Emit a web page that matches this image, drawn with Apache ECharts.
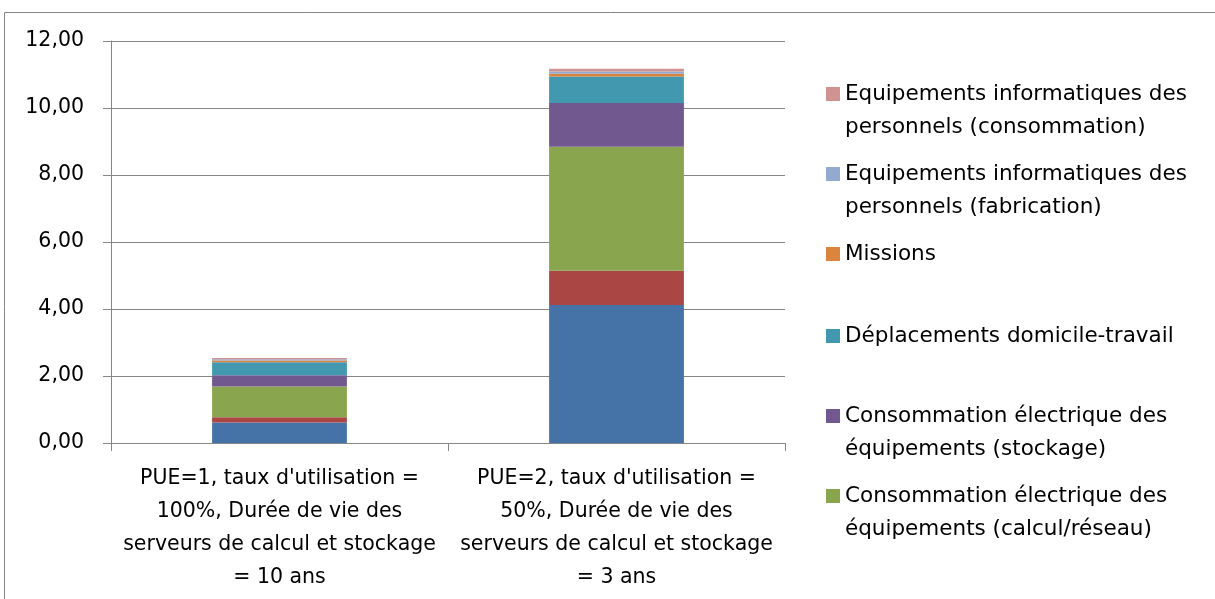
<!DOCTYPE html>
<html>
<head>
<meta charset="utf-8">
<script src="https://cdn.jsdelivr.net/npm/echarts@6/dist/echarts.min.js"></script>
<style>
html,body{margin:0;padding:0;background:#fff;}
#chart{width:1215px;height:599px;}
</style>
</head>
<body>
<div id="chart"></div>
<script>
const categories = [
  "PUE=1, taux d'utilisation =\n100%, Durée de vie des\nserveurs de calcul et stockage\n= 10 ans",
  "PUE=2, taux d'utilisation =\n50%, Durée de vie des\nserveurs de calcul et stockage\n= 3 ans"
];
const yTicks = [0, 2, 4, 6, 8, 10, 12];
const seriesNames = [
  "Fabrication des équipements (calcul/réseau)",
  "Fabrication des équipements (stockage)",
  "Consommation électrique des\néquipements (calcul/réseau)",
  "Consommation électrique des\néquipements (stockage)",
  "Déplacements domicile-travail",
  "Missions",
  "Equipements informatiques des\npersonnels (fabrication)",
  "Equipements informatiques des\npersonnels (consommation)"
];
const fabCalcul      = [0.61, 4.12];
const fabStockage    = [0.16, 1.02];
const consoCalcul    = [0.92, 3.70];
const consoStockage  = [0.33, 1.31];
const deplacements   = [0.39, 0.79];
const missions       = [0.05, 0.08];
const equipFab       = [0.04, 0.07];
const equipConso     = [0.04, 0.08];
const seriesValues = [fabCalcul, fabStockage, consoCalcul, consoStockage, deplacements, missions, equipFab, equipConso];
const colors = ['#4572A7', '#AA4643', '#89A54E', '#71588F', '#4198AF', '#DB843D', '#93A9CF', '#D19392'];

// legend entries shown (top to bottom) and the centre of their first line
const legendShown = [7, 6, 5, 4, 3, 2];
const legendFirstLine = [94, 174, 254, 336, 416, 496];

const FONT = '"DejaVu Sans", "Open Sans", sans-serif';
const FS = 20.5;
const LFS = 21.5;
const LH = 33;
const chart = echarts.init(document.getElementById('chart'), null, {renderer: 'canvas'});

// square marker placed in the top part of a taller icon, so it sits on the first text line
const ICON_TWO = 'path://M0,0L14,0L14,14L0,14Z M0,47L0.01,47L0,47.01Z';

const legends = legendShown.map((idx, i) => {
  const name = seriesNames[idx];
  const twoLines = name.indexOf('\n') >= 0;
  return {
    data: [name],
    left: 826,
    top: legendFirstLine[i] - LH / 2,
    padding: 0,
    itemWidth: 14,
    itemHeight: twoLines ? 47 : 14,
    icon: twoLines ? ICON_TWO : 'rect',
    itemStyle: {borderWidth: 0},
    selectedMode: false,
    textStyle: {fontFamily: FONT, fontSize: LFS, color: '#000', lineHeight: LH}
  };
});

const option = {
  backgroundColor: '#fff',
  animation: false,
  graphic: [{
    type: 'rect',
    shape: {x: 4.5, y: 12.5, width: 1400, height: 800},
    style: {fill: 'none', stroke: '#868686', lineWidth: 1},
    silent: true
  }],
  legend: legends,
  grid: {left: 111, right: 430, top: 41, bottom: 156, containLabel: false},
  xAxis: {
    type: 'category',
    data: categories,
    boundaryGap: true,
    axisLine: {show: true, lineStyle: {color: '#868686', width: 1}},
    axisTick: {show: true, alignWithLabel: false, length: 8, lineStyle: {color: '#868686'}},
    axisLabel: {
      fontFamily: FONT, fontSize: FS, color: '#000', lineHeight: LH, margin: 19,
      interval: 0, align: 'center'
    },
    splitLine: {show: false}
  },
  yAxis: {
    type: 'value',
    min: yTicks[0],
    max: yTicks[yTicks.length - 1],
    interval: 2,
    axisLine: {show: true, lineStyle: {color: '#868686', width: 1}},
    axisTick: {show: true, length: 8, inside: false, lineStyle: {color: '#868686'}},
    axisLabel: {
      fontFamily: FONT, fontSize: FS, color: '#000', margin: 27,
      formatter: v => v.toFixed(2).replace('.', ',')
    },
    splitLine: {show: true, lineStyle: {color: '#868686', width: 1}}
  },
  series: seriesValues.map((vals, i) => ({
    name: seriesNames[i],
    type: 'bar',
    stack: 'total',
    barWidth: '40%',
    data: vals,
    itemStyle: {color: colors[i]},
    emphasis: {disabled: true}
  }))
};
chart.setOption(option);
</script>
</body>
</html>
